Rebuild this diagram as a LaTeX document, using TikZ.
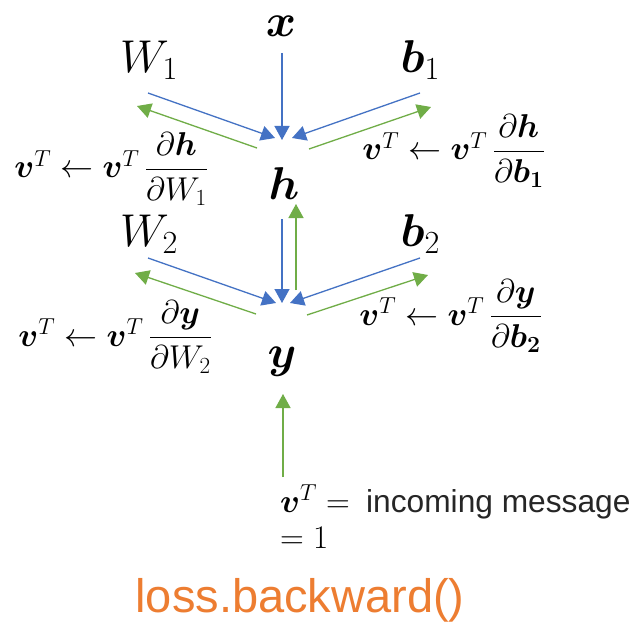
\RequirePackage{fix-cm}
\documentclass[tikz,border=0pt]{standalone}
\usepackage{amsmath,bm}
\usepackage{fontspec}
\newfontfamily\arialf{Liberation Sans}
\usetikzlibrary{arrows.meta}
\definecolor{blu}{HTML}{4472C4}
\definecolor{grn}{HTML}{70AD47}
\definecolor{org}{HTML}{ED7D31}
\tikzset{
  big/.style={inner sep=0pt, font=\fontsize{46}{50}\selectfont},
  lab/.style={inner sep=0pt, font=\fontsize{33}{38}\selectfont},
  fwd/.style={draw=blu, line width=1.3pt, -{Triangle[length=14pt,width=15pt]}},
  bwd/.style={draw=grn, line width=1.3pt, -{Triangle[length=14pt,width=15pt]}},
}
\begin{document}
\begin{tikzpicture}[x=1pt,y=-1pt]
\path[use as bounding box, fill=white] (0,0) rectangle (633,626);
% main symbols
\node[big, anchor=base] (x) at (281,37) {$\bm{x}$};
\node[big, anchor=base west] (W1) at (120,73) {$W_1$};
\node[big, anchor=base east] (b1) at (440,73) {$\bm{b}_1$};
\node[big, anchor=base] (h) at (284,200) {$\bm{h}$};
\node[big, anchor=base west] (W2) at (120,247) {$W_2$};
\node[big, anchor=base east] (b2) at (440,247) {$\bm{b}_2$};
\node[big, anchor=base] (y) at (282,367) {$\bm{y}$};
% labels
\node[lab, anchor=base east] (L1) at (208,178) {$\bm{v}^T\leftarrow\bm{v}^T\,\dfrac{\partial\bm{h}}{\partial W_1}$};
\node[lab, anchor=base east] (R1) at (545,160) {$\bm{v}^T\leftarrow\bm{v}^T\,\dfrac{\partial\bm{h}}{\partial\bm{b_1}}$};
\node[lab, anchor=base east] (L2) at (212,346) {$\bm{v}^T\leftarrow\bm{v}^T\,\dfrac{\partial\bm{y}}{\partial W_2}$};
\node[lab, anchor=base east] (R2) at (542,325) {$\bm{v}^T\leftarrow\bm{v}^T\,\dfrac{\partial\bm{y}}{\partial\bm{b_2}}$};
\node[lab, anchor=base west] (inm) at (280,512) {$\bm{v}^T=$};
\node[inner sep=0pt, anchor=base west, font=\arialf\fontsize{31.7}{36}\selectfont, text=black!85] (inc) at (366,512) {incoming message};
\node[lab, anchor=base west] (one) at (280,548) {$=1$};
\node[inner sep=0pt, anchor=base, font=\arialf\fontsize{47}{52}\selectfont, text=org] (loss) at (300,612) {loss.backward()};
% connector end points
\coordinate (xs) at (282,53);  \coordinate (xe) at (282,140);
\coordinate (w1s) at (148,93); \coordinate (w1e) at (275,138);
\coordinate (b1s) at (420,93); \coordinate (b1e) at (292,138);
\coordinate (g1s) at (257,148); \coordinate (g1e) at (137,106);
\coordinate (g2s) at (309,149); \coordinate (g2e) at (431,107);
\coordinate (hs) at (282,219); \coordinate (he) at (282,303);
\coordinate (w2s) at (148,258); \coordinate (w2e) at (276,303);
\coordinate (b2s) at (420,258); \coordinate (b2e) at (290,303);
\coordinate (ghs) at (296,290); \coordinate (ghe) at (296,204);
\coordinate (g3s) at (256,314); \coordinate (g3e) at (135,273);
\coordinate (g4s) at (307,315); \coordinate (g4e) at (428,275);
\coordinate (ls) at (283,477); \coordinate (le) at (283,394);
% forward
\draw[fwd] (xs) -- (xe);
\draw[fwd] (w1s) -- (w1e);
\draw[fwd] (b1s) -- (b1e);
\draw[fwd] (hs) -- (he);
\draw[fwd] (w2s) -- (w2e);
\draw[fwd] (b2s) -- (b2e);
% backward
\draw[bwd] (g1s) -- (g1e);
\draw[bwd] (g2s) -- (g2e);
\draw[bwd] (ghs) -- (ghe);
\draw[bwd] (g3s) -- (g3e);
\draw[bwd] (g4s) -- (g4e);
\draw[bwd] (ls) -- (le);
\end{tikzpicture}
\end{document}
